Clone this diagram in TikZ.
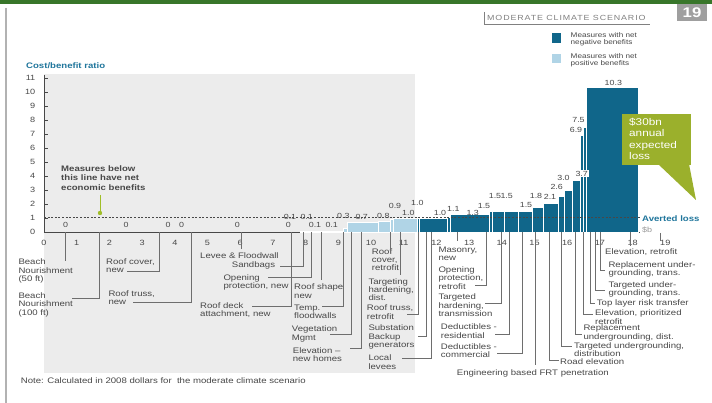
\documentclass[tikz,border=0pt]{standalone}
\usepackage{fontspec}
\setmainfont{Liberation Sans}[FakeStretch=1.2]
\definecolor{darkteal}{RGB}{16,102,138}
\definecolor{lightteal}{RGB}{176,212,230}
\definecolor{zonegray}{RGB}{236,236,236}
\definecolor{topgreen}{RGB}{56,118,42}
\definecolor{olive}{RGB}{155,176,44}
\definecolor{pingreen}{RGB}{160,190,40}
\definecolor{tealtxt}{RGB}{32,118,156}
\definecolor{txtgray}{RGB}{72,72,72}
\definecolor{leadgray}{RGB}{110,110,110}

\begin{document}
\begin{tikzpicture}[x=1pt,y=-1pt,
	lbl/.style={anchor=north west,inner sep=0pt,align=left,text=txtgray,font=\fontsize{8}{8.3}\selectfont},
	lead/.style={draw=leadgray,line width=0.7pt},
	val/.style={inner sep=0.4pt,text=txtgray,font=\fontsize{7.4}{8}\selectfont},
	tick/.style={inner sep=0pt,text=txtgray,font=\fontsize{7.6}{8}\selectfont},
	darkbar/.style={fill=darkteal,draw=white,line width=0.5pt},
	lightbar/.style={fill=lightteal,draw=white,line width=0.5pt}]
	\useasboundingbox (0,0) rectangle (712,403);
	\fill[white] (0,0) rectangle (712,403);
	\fill[topgreen] (0,0) rectangle (712,4);
	\draw[gray!60,line width=1.2pt] (6,8) -- (6,403);
	
	% title, page number and legend
	\fill[gray!75] (677,4) rectangle (707,21);
	\node[inner sep=0pt,text=white,font=\fontsize{14}{14}\bfseries\selectfont] (page) at (692,12.5) {19};
	\node[inner sep=0pt,anchor=west,text=gray,font=\fontsize{7.4}{7.4}\selectfont\addfontfeature{LetterSpace=12}] (scen) at (487,17.5) {MODERATE CLIMATE SCENARIO};
	\draw[gray] (484,12) -- (484,24) -- (650,24);
	\fill[darkteal] (552,33) rectangle (561,43);
	\fill[lightteal] (552,54) rectangle (561,63);
	\node[lbl,font=\fontsize{6.8}{7.3}\selectfont] (legneg) at (570.5,32.5) {Measures with net\\negative benefits};
	\node[lbl,font=\fontsize{6.8}{7.3}\selectfont] (legpos) at (570.5,53.5) {Measures with net\\positive benefits};
	
	% shaded zone and axes
	\fill[zonegray] (44,74) rectangle (415,373);
	\node[anchor=west,inner sep=0pt,text=tealtxt,font=\fontsize{8}{9}\bfseries\selectfont] (ytitle) at (26,65.5) {Cost/benefit ratio};
	\foreach \i in {0,...,11} {
		\node[tick,anchor=east] (yt\i) at (35.5,{232.3-14.04*\i}) {\i};
		\draw[txtgray,line width=0.5pt] (44,{232.3-14.04*\i}) -- (47.5,{232.3-14.04*\i});
	}
	\draw[txtgray,line width=0.6pt] (44,75) -- (44,232.3) -- (640,232.3);
	\foreach \i in {0,...,19}
		\node[tick] (xt\i) at ({44+32.7*\i},243) {\i};
	
	% bars
	\foreach \xa/\xb/\v in {300/312/0.1,312/330/0.1,330/343/0.1,343/347/0.3,347/378.5/0.7,378.5/390.5/0.8,390.5/393/0.9,393/417/1.0}
		\filldraw[lightbar] (\xa,232.3) rectangle (\xb,{232.3-14.04*\v});
	\foreach \xa/\xb/\v in {417/419/1.0,419/447.5/1.0,447.5/450/1.1,450/489.3/1.3,489.3/492.7/1.5,492.7/504.5/1.5,504.5/518.2/1.5,518.2/532/1.5,532/543.7/1.8,543.7/558.7/2.1,558.7/563.8/2.6,563.8/572/3.0,572/580.3/3.7,580.3/582.8/6.9,582.8/586.5/7.5,586.5/638.3/10.3}
		\filldraw[darkbar] (\xa,232.3) rectangle (\xb,{232.3-14.04*\v});
	
	% averted loss line
	\draw[txtgray,dash pattern=on 2pt off 1.6pt,line width=0.6pt] (44,217.5) -- (641,217.5);
	\node[anchor=west,inner sep=0pt,text=tealtxt,font=\fontsize{8}{9}\bfseries\selectfont] (avert) at (642,219) {Averted loss};
	\node[anchor=west,inner sep=0pt,text=gray!80,font=\fontsize{7.5}{8}\selectfont] (sb) at (642,229.5) {\$b};
	\coordinate (sbtop) at (660,233);
	\coordinate (sbbot) at (660,241.5);
	\draw[lead] (sbtop) -- (sbbot);
	
	% values
	\foreach \x/\y/\v [count=\k] in {65.7/225/0,126/225/0,168/225/0,181.7/225/0,237.3/225/0,288.3/225/0,290/216.7/0.1,306.7/216.7/0.1,315/225/0.1,331.7/225/0.1,343.3/216/0.3,361.7/216.5/0.7,383.3/215.5/0.8,395/205.7/0.9,408.3/212.7/1.0,417.3/203.3/1.0,440/212.7/1.0,453.3/209.3/1.1,472.7/212.7/1.3,484/206/1.5,495/196/1.5,506.7/196/1.5,526/205/1.5,536/196/1.8,550/197.3/2.1,556.7/187.3/2.6,563.5/177.7/3.0,578.5/120/7.5,576/130/6.9,613.3/82.7/10.3}
		\node[val] (v\k) at (\x,\y) {\v};
	\node[val,fill=white,inner sep=0.8pt] (v37) at (581.7,173.8) {3.7};
	
	% note on the zero line
	\node[lbl,font=\fontsize{8}{9.3}\bfseries\selectfont] (below) at (61,165.5) {Measures below\\this line have net\\economic benefits};
	\coordinate (pintop) at (100,195);
	\coordinate (pin) at (100,213);
	\draw[pingreen,line width=1pt] (pintop) -- (pin);
	\fill[pingreen] (pin) circle (2.2);
	
	% callout
	\fill[olive] (622,114) rectangle (691,165);
	\fill[olive] (658,164) -- (696,200) -- (689,164) -- cycle;
	\node[anchor=north west,inner sep=0pt,align=left,text=white,font=\fontsize{9.8}{11.3}\selectfont] (aeloss) at (629,118) {\$30bn\\annual\\expected\\loss};
	
	% measure labels
	\node[lbl] (bn50) at (18.3,258.8) {Beach\\Nourishment\\(50 ft)};
	\node[lbl] (rcn) at (106,258.2) {Roof cover,\\new};
	\node[lbl] (bn100) at (18.3,292.5) {Beach\\Nourishment\\(100 ft)};
	\node[lbl] (rtn) at (108.3,290.5) {Roof truss,\\new};
	\node[lbl] (rda) at (200,302.2) {Roof deck\\attachment, new};
	\node[lbl] (lev) at (200,252.2) {Levee \& Floodwall};
	\node[lbl] (sbg) at (231.7,261.5) {Sandbags};
	\node[lbl] (opn) at (223.3,274.2) {Opening\\protection, new};
	\node[lbl] (rsn) at (294,283.8) {Roof shape\\new};
	\node[lbl] (tfw) at (294,304.8) {Temp.\\floodwalls};
	\node[lbl] (veg) at (291.7,325.8) {Vegetation\\Mgmt};
	\node[lbl] (enh) at (292.7,347.5) {Elevation --\\new homes};
	\node[lbl] (rcr) at (371.7,248.2) {Roof\\cover,\\retrofit};
	\node[lbl] (thd) at (368.3,278.2) {Targeting\\hardening,\\dist.};
	\node[lbl] (rtr) at (366.7,304.8) {Roof truss,\\retrofit};
	\node[lbl] (ssb) at (368.3,324.8) {Substation\\Backup\\generators};
	\node[lbl] (llv) at (368.3,354.8) {Local\\levees};
	\node[lbl] (msn) at (438.3,246.5) {Masonry,\\new};
	\node[lbl] (opr) at (438.3,266.5) {Opening\\protection,\\retrofit};
	\node[lbl] (tht) at (438.3,293.8) {Targeted\\hardening,\\transmission};
	\node[lbl] (dres) at (440.7,323.8) {Deductibles -\\residential};
	\node[lbl] (dcom) at (440.7,343.2) {Deductibles -\\commercial};
	\node[lbl] (frt) at (456.7,369.2) {Engineering based FRT penetration};
	\node[lbl] (rde) at (560,358.2) {Road elevation};
	\node[lbl] (tud) at (574,342.5) {Targeted undergrounding,\\distribution};
	\node[lbl] (rud) at (583.3,324.8) {Replacement\\undergrounding, dist.};
	\node[lbl] (epr) at (595,309.8) {Elevation, prioritized\\retrofit};
	\node[lbl] (tlr) at (596.7,299.8) {Top layer risk transfer};
	\node[lbl] (tut) at (608.3,281.5) {Targeted under-\\grounding, trans.};
	\node[lbl] (rut) at (608.3,261.5) {Replacement under-\\grounding, trans.};
	\node[lbl] (erf) at (605,248.2) {Elevation, retrofit};
	
	% leaders
	\foreach \nm/\xa/\xb/\yb in {bn50/65/65/261,rcn/159/127/271,bn100/99.3/71.7/298.3,rtn/191/133/302.7,rda/291.7/251.7/306.7,lev/241/241/249,sbg/303.3/280/266,opn/311.7/268/277.7,rsn/321.7/321.7/280,tfw/343.3/321.7/306.7,veg/351.7/330/334.3,enh/361.7/350/348.3,rcr/390/390/253,thd/400/400/275,rtr/418.3/406.7/314,ssb/426.7/418.3/336.7,llv/431.7/401.7/358.3,msn/457.7/457.7/241,opr/486.7/475/285.7,tht/501/485/303.3,dres/509.3/495/334,dcom/522.7/496.7/353.3,frt/535/535/365,rde/549.3/559.3/360.7,tud/561.7/571.7/346.7,rud/575/581.7/334,epr/583.3/593.3/314,tlr/590/595/303.3,tut/595/605/290,rut/600/605/270.7,erf/630/630/246} {
		\coordinate (\nm-a) at (\xa,232.3);
		\coordinate (\nm-b) at (\xb,\yb);
		\draw[lead] (\nm-a) |- (\nm-b);
	}
	
	\node[lbl] (note) at (20.7,378) {Note: Calculated in 2008 dollars for\ \ the moderate climate scenario};
\end{tikzpicture}
\end{document}
